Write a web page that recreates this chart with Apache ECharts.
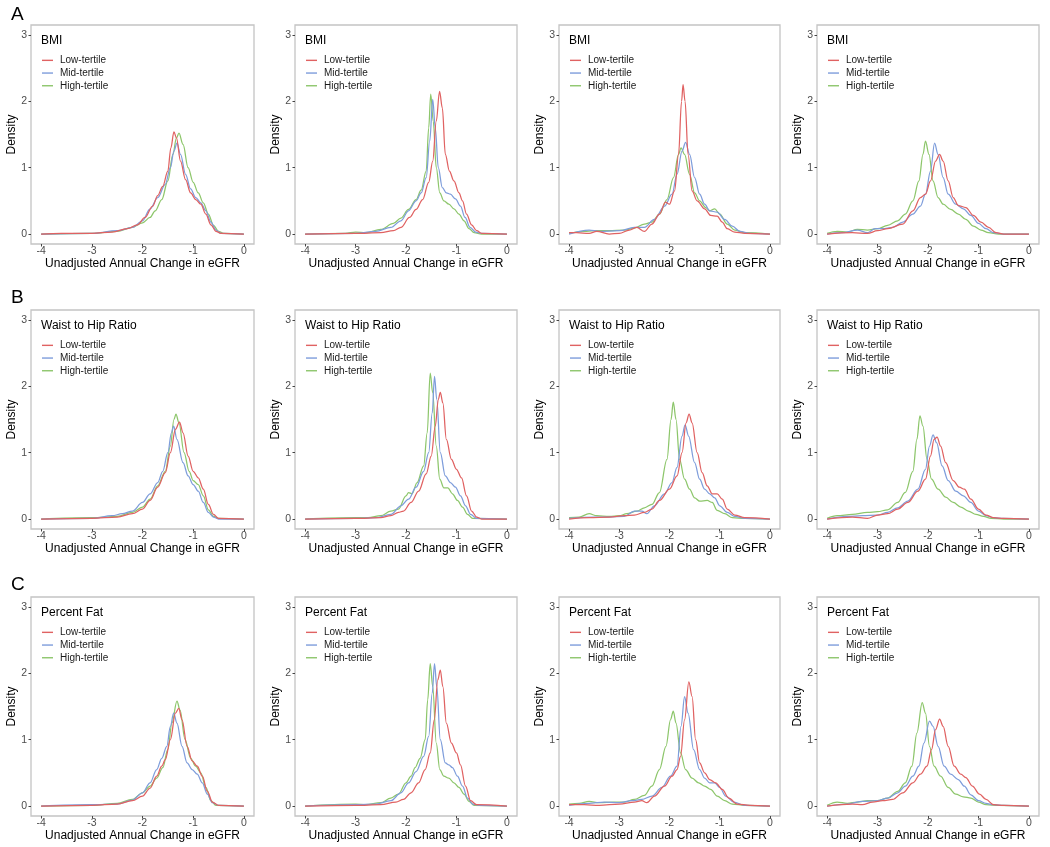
<!DOCTYPE html>
<html><head><meta charset="utf-8">
<script src="https://cdn.jsdelivr.net/npm/echarts@6/dist/echarts.min.js"></script>
<style>html,body{margin:0;padding:0;background:#fff}#c{width:1050px;height:847px}</style>
</head><body><div id="c"></div>
<script>
// ---- labels ----
const tertiles = ['Low-tertile', 'Mid-tertile', 'High-tertile'];
const measures = ['BMI', 'Waist to Hip Ratio', 'Percent Fat'];
const rowLetters = ['A', 'B', 'C'];
const xTicks = [-4, -3, -2, -1, 0];
const yTicks = [0, 1, 2, 3];
const xTitle = 'Unadjusted Annual Change in eGFR';
const yTitle = 'Density';

// ---- data: [x, density] ----
// Row A: BMI
const bmi1_low = [[-4,0],[-3.6,0.01],[-3,0.01],[-2.6,0.03],[-2.3,0.08],[-2.1,0.14],[-1.95,0.25],[-1.8,0.42],[-1.7,0.58],[-1.6,0.72],[-1.5,0.95],[-1.44,1.3],[-1.38,1.54],[-1.33,1.45],[-1.25,1.1],[-1.15,0.82],[-1.05,0.62],[-0.95,0.52],[-0.85,0.45],[-0.75,0.3],[-0.65,0.14],[-0.55,0.04],[-0.45,0.01],[0,0]];
const bmi1_mid = [[-4,0],[-3,0.01],[-2.5,0.05],[-2.2,0.1],[-2,0.2],[-1.85,0.38],[-1.7,0.55],[-1.55,0.75],[-1.45,1.0],[-1.38,1.25],[-1.32,1.37],[-1.25,1.2],[-1.15,0.9],[-1.05,0.68],[-0.95,0.55],[-0.85,0.47],[-0.75,0.35],[-0.65,0.18],[-0.55,0.06],[-0.45,0.01],[0,0]];
const bmi1_high = [[-4,0],[-3,0.01],[-2.5,0.04],[-2.2,0.1],[-2,0.17],[-1.85,0.25],[-1.75,0.35],[-1.62,0.52],[-1.5,0.8],[-1.4,1.2],[-1.33,1.45],[-1.28,1.52],[-1.2,1.35],[-1.1,1.0],[-1.0,0.78],[-0.9,0.62],[-0.8,0.47],[-0.7,0.3],[-0.6,0.13],[-0.5,0.04],[-0.4,0.01],[0,0]];

const bmi2_low = [[-4,0],[-3,0.01],[-2.5,0.02],[-2.25,0.05],[-2.1,0.1],[-1.93,0.25],[-1.8,0.37],[-1.67,0.52],[-1.55,0.78],[-1.47,1.1],[-1.4,1.7],[-1.335,2.15],[-1.28,1.9],[-1.22,1.2],[-1.14,0.95],[-1.05,0.8],[-0.95,0.62],[-0.88,0.5],[-0.8,0.3],[-0.7,0.14],[-0.6,0.05],[-0.5,0.01],[0,0]];
const bmi2_mid = [[-4,0],[-3,0.01],[-2.6,0.04],[-2.3,0.1],[-2.1,0.2],[-1.95,0.35],[-1.8,0.5],[-1.7,0.62],[-1.6,0.85],[-1.53,1.4],[-1.47,2.03],[-1.42,1.6],[-1.36,1.0],[-1.28,0.7],[-1.2,0.62],[-1.12,0.6],[-1.02,0.53],[-0.92,0.42],[-0.83,0.25],[-0.73,0.1],[-0.62,0.03],[-0.5,0.01],[0,0]];
const bmi2_high = [[-4,0],[-3.2,0.01],[-3,0.03],[-2.8,0.02],[-2.5,0.07],[-2.25,0.16],[-2.1,0.24],[-1.95,0.37],[-1.8,0.52],[-1.7,0.66],[-1.6,0.95],[-1.55,1.6],[-1.51,2.11],[-1.46,1.7],[-1.4,1.0],[-1.33,0.62],[-1.25,0.5],[-1.15,0.45],[-1.05,0.38],[-0.95,0.3],[-0.85,0.2],[-0.75,0.08],[-0.65,0.02],[-0.5,0],[0,0]];

const bmi3_low = [[-4,0.02],[-3.85,0.02],[-3.6,0.01],[-3.45,0.04],[-3.2,0.0],[-3,0.01],[-2.8,0.06],[-2.65,0.1],[-2.5,0.04],[-2.35,0.15],[-2.2,0.3],[-2.08,0.48],[-2.0,0.45],[-1.9,0.65],[-1.82,1.2],[-1.76,2.0],[-1.73,2.25],[-1.69,2.0],[-1.63,1.2],[-1.55,0.65],[-1.45,0.5],[-1.3,0.38],[-1.18,0.28],[-1.05,0.27],[-0.95,0.18],[-0.85,0.08],[-0.7,0.03],[-0.5,0.01],[0,0]];
const bmi3_mid = [[-4,0],[-3.6,0.06],[-3.4,0.04],[-3,0.05],[-2.7,0.1],[-2.5,0.1],[-2.3,0.22],[-2.1,0.42],[-1.95,0.6],[-1.85,0.9],[-1.75,1.25],[-1.68,1.38],[-1.6,1.2],[-1.5,0.85],[-1.4,0.6],[-1.3,0.45],[-1.2,0.35],[-1.05,0.33],[-0.9,0.22],[-0.75,0.12],[-0.6,0.04],[-0.4,0.01],[0,0]];
const bmi3_high = [[-4,0.01],[-3.7,0.04],[-3.5,0.05],[-3.2,0.05],[-2.9,0.06],[-2.7,0.09],[-2.5,0.15],[-2.35,0.18],[-2.2,0.3],[-2.05,0.52],[-1.92,0.85],[-1.82,1.2],[-1.77,1.3],[-1.7,1.2],[-1.6,0.9],[-1.5,0.62],[-1.4,0.5],[-1.28,0.4],[-1.2,0.35],[-1.1,0.38],[-1.0,0.3],[-0.85,0.15],[-0.7,0.06],[-0.5,0.02],[0,0]];

const bmi4_low = [[-4,0],[-3.5,0.02],[-3.2,0.01],[-3,0.05],[-2.8,0.08],[-2.5,0.15],[-2.3,0.35],[-2.15,0.55],[-2.05,0.6],[-1.95,0.8],[-1.85,1.1],[-1.77,1.2],[-1.7,1.1],[-1.6,0.8],[-1.5,0.55],[-1.4,0.43],[-1.25,0.4],[-1.1,0.28],[-0.95,0.18],[-0.8,0.1],[-0.65,0.02],[-0.5,0],[0,0]];
const bmi4_mid = [[-4,0],[-3.7,0.02],[-3.4,0.06],[-3.2,0.02],[-3.05,0.08],[-2.9,0.08],[-2.7,0.1],[-2.5,0.18],[-2.3,0.3],[-2.15,0.42],[-2.05,0.6],[-1.95,0.95],[-1.87,1.37],[-1.8,1.2],[-1.7,0.85],[-1.6,0.6],[-1.45,0.45],[-1.3,0.38],[-1.15,0.28],[-1.0,0.16],[-0.85,0.08],[-0.7,0.02],[-0.5,0],[0,0]];
const bmi4_high = [[-4,0.01],[-3.8,0.04],[-3.6,0.03],[-3.4,0.07],[-3.2,0.06],[-3,0.08],[-2.8,0.13],[-2.6,0.2],[-2.45,0.3],[-2.3,0.5],[-2.18,0.8],[-2.1,1.2],[-2.05,1.4],[-1.98,1.2],[-1.9,0.8],[-1.8,0.55],[-1.7,0.45],[-1.55,0.37],[-1.4,0.3],[-1.25,0.22],[-1.1,0.12],[-0.95,0.06],[-0.8,0.02],[-0.6,0],[0,0]];

// Row B: Waist to Hip Ratio
const whr1_low = [[-4,0],[-3,0.01],[-2.5,0.03],[-2.2,0.08],[-2,0.15],[-1.85,0.28],[-1.7,0.48],[-1.55,0.7],[-1.45,1.0],[-1.35,1.35],[-1.27,1.46],[-1.2,1.3],[-1.1,0.95],[-1.0,0.72],[-0.9,0.62],[-0.8,0.45],[-0.7,0.22],[-0.6,0.07],[-0.5,0.01],[0,0]];
const whr1_mid = [[-4,0],[-3,0.01],[-2.6,0.05],[-2.4,0.08],[-2.2,0.12],[-2,0.25],[-1.85,0.38],[-1.7,0.55],[-1.6,0.72],[-1.5,1.0],[-1.43,1.3],[-1.385,1.4],[-1.32,1.2],[-1.2,0.85],[-1.1,0.65],[-1.0,0.52],[-0.9,0.42],[-0.8,0.25],[-0.7,0.1],[-0.6,0.03],[-0.5,0],[0,0]];
const whr1_high = [[-4,0],[-3,0.02],[-2.5,0.04],[-2.2,0.1],[-2,0.18],[-1.85,0.3],[-1.7,0.5],[-1.55,0.72],[-1.45,1.1],[-1.38,1.5],[-1.34,1.58],[-1.28,1.45],[-1.18,1.0],[-1.08,0.72],[-1.0,0.58],[-0.9,0.52],[-0.8,0.35],[-0.7,0.14],[-0.6,0.04],[-0.5,0.01],[0,0]];

const whr2_low = [[-4,0],[-3,0.01],[-2.5,0.02],[-2.3,0.05],[-2.15,0.1],[-2.05,0.12],[-1.9,0.25],[-1.75,0.42],[-1.6,0.68],[-1.5,0.95],[-1.42,1.4],[-1.36,1.8],[-1.32,1.91],[-1.27,1.75],[-1.2,1.2],[-1.1,0.9],[-1.0,0.75],[-0.9,0.62],[-0.8,0.35],[-0.7,0.12],[-0.6,0.03],[-0.5,0],[0,0]];
const whr2_mid = [[-4,0],[-3,0.01],[-2.6,0.02],[-2.3,0.07],[-2.1,0.2],[-1.95,0.3],[-1.8,0.48],[-1.65,0.72],[-1.55,1.0],[-1.48,1.6],[-1.435,2.15],[-1.39,1.8],[-1.32,1.0],[-1.22,0.65],[-1.12,0.55],[-1.02,0.48],[-0.92,0.35],[-0.82,0.2],[-0.72,0.07],[-0.6,0.01],[0,0]];
const whr2_high = [[-4,0],[-3,0.02],[-2.75,0.02],[-2.5,0.05],[-2.3,0.12],[-2.15,0.15],[-2.0,0.35],[-1.95,0.4],[-1.88,0.38],[-1.78,0.55],[-1.65,0.8],[-1.58,1.3],[-1.52,2.2],[-1.47,1.9],[-1.4,1.1],[-1.33,0.6],[-1.25,0.47],[-1.17,0.47],[-1.08,0.38],[-0.98,0.28],[-0.88,0.18],[-0.78,0.07],[-0.68,0.01],[0,0]];

const whr3_low = [[-4,0],[-3.6,0.02],[-3.2,0.03],[-2.9,0.05],[-2.7,0.06],[-2.5,0.1],[-2.35,0.15],[-2.2,0.28],[-2.0,0.45],[-1.85,0.65],[-1.75,1.0],[-1.67,1.45],[-1.61,1.58],[-1.55,1.45],[-1.45,1.0],[-1.35,0.7],[-1.25,0.5],[-1.15,0.38],[-1.05,0.38],[-0.95,0.3],[-0.85,0.15],[-0.7,0.06],[-0.5,0.02],[0,0]];
const whr3_mid = [[-4,0.01],[-3.5,0.03],[-3.2,0.03],[-2.9,0.04],[-2.7,0.12],[-2.55,0.12],[-2.45,0.08],[-2.3,0.2],[-2.1,0.38],[-1.95,0.55],[-1.85,0.78],[-1.75,1.25],[-1.69,1.42],[-1.62,1.25],[-1.5,0.85],[-1.4,0.6],[-1.3,0.45],[-1.2,0.38],[-1.1,0.32],[-1.0,0.2],[-0.85,0.1],[-0.7,0.04],[-0.5,0.01],[0,0]];
const whr3_high = [[-4,0.02],[-3.8,0.03],[-3.6,0.08],[-3.45,0.05],[-3.2,0.04],[-3,0.05],[-2.85,0.08],[-2.65,0.12],[-2.5,0.17],[-2.35,0.22],[-2.2,0.4],[-2.05,0.9],[-1.97,1.5],[-1.925,1.76],[-1.87,1.5],[-1.8,0.9],[-1.7,0.6],[-1.6,0.45],[-1.5,0.32],[-1.4,0.27],[-1.25,0.28],[-1.15,0.25],[-1.05,0.13],[-0.9,0.08],[-0.75,0.02],[-0.5,0.01],[0,0]];

const whr4_low = [[-4,0],[-3.5,0.03],[-3.2,0.01],[-3.0,0.06],[-2.8,0.08],[-2.6,0.15],[-2.4,0.25],[-2.2,0.42],[-2.05,0.6],[-1.95,0.95],[-1.88,1.2],[-1.82,1.235],[-1.75,1.1],[-1.65,0.85],[-1.5,0.58],[-1.38,0.48],[-1.28,0.45],[-1.15,0.3],[-1.0,0.15],[-0.85,0.06],[-0.7,0.02],[-0.5,0.01],[0,0]];
const whr4_mid = [[-4,0],[-3.6,0.04],[-3.3,0.05],[-3.0,0.06],[-2.8,0.1],[-2.6,0.17],[-2.4,0.27],[-2.2,0.45],[-2.05,0.75],[-1.97,1.1],[-1.9,1.27],[-1.83,1.15],[-1.72,0.8],[-1.6,0.58],[-1.45,0.42],[-1.3,0.35],[-1.15,0.25],[-1.0,0.12],[-0.85,0.05],[-0.7,0.02],[-0.5,0.01],[0,0]];
const whr4_high = [[-4,0.01],[-3.8,0.05],[-3.5,0.07],[-3.2,0.1],[-3.0,0.11],[-2.8,0.14],[-2.6,0.25],[-2.45,0.4],[-2.3,0.72],[-2.22,1.2],[-2.16,1.555],[-2.1,1.4],[-2.02,0.9],[-1.93,0.6],[-1.8,0.45],[-1.65,0.33],[-1.5,0.25],[-1.35,0.18],[-1.2,0.12],[-1.05,0.07],[-0.9,0.04],[-0.75,0.01],[-0.5,0],[0,0]];

// Row C: Percent Fat
const fat1_low = [[-4,0],[-3,0.01],[-2.5,0.03],[-2.2,0.08],[-2,0.15],[-1.85,0.27],[-1.72,0.45],[-1.62,0.6],[-1.55,0.7],[-1.45,1.0],[-1.35,1.4],[-1.285,1.47],[-1.22,1.3],[-1.12,0.9],[-1.02,0.68],[-0.92,0.6],[-0.82,0.45],[-0.72,0.22],[-0.62,0.06],[-0.5,0.01],[0,0]];
const fat1_mid = [[-4,0],[-3,0.02],[-2.5,0.03],[-2.2,0.09],[-2.0,0.2],[-1.85,0.35],[-1.72,0.55],[-1.62,0.72],[-1.52,0.9],[-1.45,1.2],[-1.385,1.4],[-1.32,1.25],[-1.22,0.9],[-1.12,0.65],[-1.02,0.55],[-0.92,0.48],[-0.82,0.35],[-0.72,0.18],[-0.62,0.05],[-0.5,0.01],[0,0]];
const fat1_high = [[-4,0],[-3,0.01],[-2.5,0.04],[-2.2,0.1],[-2.0,0.2],[-1.85,0.3],[-1.72,0.42],[-1.6,0.58],[-1.5,0.85],[-1.42,1.25],[-1.32,1.58],[-1.26,1.45],[-1.16,1.0],[-1.05,0.72],[-0.95,0.6],[-0.85,0.5],[-0.75,0.28],[-0.65,0.08],[-0.55,0.01],[0,0]];

const fat2_low = [[-4,0],[-3,0.01],[-2.5,0.02],[-2.2,0.06],[-2.05,0.1],[-1.9,0.2],[-1.75,0.35],[-1.62,0.55],[-1.52,0.8],[-1.44,1.3],[-1.37,1.9],[-1.32,2.05],[-1.27,1.8],[-1.2,1.25],[-1.1,0.95],[-1.0,0.8],[-0.92,0.62],[-0.82,0.3],[-0.72,0.08],[-0.6,0.02],[0,0]];
const fat2_mid = [[-4,0],[-3,0.02],[-2.6,0.03],[-2.3,0.08],[-2.1,0.2],[-1.95,0.35],[-1.8,0.52],[-1.65,0.75],[-1.55,1.05],[-1.48,1.7],[-1.435,2.145],[-1.39,1.8],[-1.32,1.0],[-1.22,0.65],[-1.15,0.62],[-1.08,0.58],[-0.98,0.45],[-0.88,0.3],[-0.78,0.12],[-0.68,0.03],[-0.55,0.01],[0,0]];
const fat2_high = [[-4,0],[-3,0.03],[-2.8,0.02],[-2.5,0.05],[-2.3,0.12],[-2.15,0.18],[-2.0,0.35],[-1.9,0.45],[-1.82,0.58],[-1.72,0.72],[-1.62,1.0],[-1.57,1.6],[-1.52,2.145],[-1.47,1.8],[-1.4,0.95],[-1.33,0.55],[-1.25,0.45],[-1.15,0.42],[-1.05,0.35],[-0.95,0.28],[-0.85,0.18],[-0.75,0.07],[-0.65,0.01],[0,0]];

const fat3_low = [[-4,0.02],[-3.7,0.02],[-3.4,0.01],[-3.0,0.03],[-2.7,0.06],[-2.55,0.08],[-2.45,0.05],[-2.3,0.15],[-2.1,0.3],[-1.95,0.45],[-1.85,0.55],[-1.78,0.75],[-1.7,1.3],[-1.615,1.87],[-1.55,1.65],[-1.48,1.0],[-1.4,0.65],[-1.3,0.5],[-1.2,0.4],[-1.08,0.35],[-0.95,0.25],[-0.82,0.12],[-0.65,0.03],[-0.4,0.01],[0,0]];
const fat3_mid = [[-4,0.01],[-3.6,0.04],[-3.3,0.06],[-3.0,0.05],[-2.75,0.08],[-2.55,0.1],[-2.35,0.15],[-2.15,0.28],[-1.98,0.45],[-1.85,0.6],[-1.77,1.2],[-1.7,1.65],[-1.63,1.4],[-1.52,0.85],[-1.4,0.55],[-1.3,0.42],[-1.2,0.35],[-1.1,0.35],[-1.0,0.28],[-0.88,0.15],[-0.72,0.06],[-0.5,0.01],[0,0]];
const fat3_high = [[-4,0.03],[-3.8,0.04],[-3.6,0.07],[-3.4,0.05],[-3.1,0.06],[-2.9,0.06],[-2.7,0.1],[-2.5,0.16],[-2.35,0.3],[-2.2,0.55],[-2.07,0.9],[-1.98,1.3],[-1.925,1.43],[-1.87,1.25],[-1.78,0.8],[-1.68,0.55],[-1.55,0.42],[-1.42,0.35],[-1.3,0.3],[-1.18,0.25],[-1.05,0.15],[-0.9,0.08],[-0.75,0.03],[-0.5,0.01],[0,0]];

const fat4_low = [[-4,0],[-3.5,0.03],[-3.3,0.02],[-3.1,0.06],[-2.9,0.08],[-2.7,0.1],[-2.5,0.2],[-2.3,0.35],[-2.15,0.48],[-2.02,0.6],[-1.93,0.85],[-1.85,1.15],[-1.77,1.31],[-1.7,1.2],[-1.6,0.9],[-1.48,0.6],[-1.35,0.48],[-1.25,0.43],[-1.12,0.3],[-0.98,0.18],[-0.85,0.1],[-0.7,0.02],[-0.5,0.01],[0,0]];
const fat4_mid = [[-4,0],[-3.6,0.03],[-3.3,0.07],[-3.0,0.08],[-2.8,0.12],[-2.6,0.2],[-2.45,0.3],[-2.3,0.45],[-2.18,0.6],[-2.08,0.95],[-1.97,1.28],[-1.9,1.2],[-1.8,0.9],[-1.68,0.6],[-1.55,0.48],[-1.4,0.4],[-1.28,0.3],[-1.15,0.17],[-1.0,0.08],[-0.85,0.04],[-0.7,0.02],[-0.5,0.01],[0,0]];
const fat4_high = [[-4,0.01],[-3.8,0.06],[-3.6,0.04],[-3.4,0.06],[-3.2,0.08],[-3.0,0.08],[-2.8,0.12],[-2.6,0.22],[-2.45,0.35],[-2.32,0.6],[-2.22,1.1],[-2.115,1.56],[-2.05,1.4],[-1.97,0.9],[-1.88,0.6],[-1.75,0.45],[-1.6,0.28],[-1.45,0.18],[-1.3,0.14],[-1.15,0.12],[-1.0,0.06],[-0.85,0.02],[-0.6,0.01],[0,0]];

const panelData = [
  [[bmi1_low,bmi1_mid,bmi1_high],[bmi2_low,bmi2_mid,bmi2_high],[bmi3_low,bmi3_mid,bmi3_high],[bmi4_low,bmi4_mid,bmi4_high]],
  [[whr1_low,whr1_mid,whr1_high],[whr2_low,whr2_mid,whr2_high],[whr3_low,whr3_mid,whr3_high],[whr4_low,whr4_mid,whr4_high]],
  [[fat1_low,fat1_mid,fat1_high],[fat2_low,fat2_mid,fat2_high],[fat3_low,fat3_mid,fat3_high],[fat4_low,fat4_mid,fat4_high]]
];

// ---- layout & style ----
const colLeft = [31, 295, 559, 817];
const colWidth = [223, 222, 221, 222];
const rowTop = [25, 310, 597];
const boxHeight = 219;
const letterTop = [5, 288, 575];
const colors = ['#e06262', '#7e9ddb', '#8dc66b'];
const FONT = 'Liberation Sans, Arial, sans-serif';

const grids = [], xAxes = [], yAxes = [], titles = [], legends = [], series = [];
rowLetters.forEach((L, r) => {
  titles.push({ text: L, left: 11, top: letterTop[r], padding: 0,
    textStyle: { fontSize: 19, fontWeight: 'normal', color: '#000', fontFamily: FONT } });
});
for (let r = 0; r < 3; r++) {
  for (let c = 0; c < 4; c++) {
    const i = r * 4 + c;
    const L = colLeft[c], T = rowTop[r];
    grids.push({ left: L, top: T, width: colWidth[c], height: boxHeight, show: true,
      borderColor: '#c4c4c4', borderWidth: 1.3, backgroundColor: '#fff' });
    xAxes.push({ gridIndex: i, type: 'value', min: -4.2, max: 0.2, position: 'bottom',
      axisLine: { show: false, onZero: false }, splitLine: { show: false },
      axisTick: { show: true, inside: false, length: 2.5, customValues: xTicks, lineStyle: { color: '#444', width: 1 } },
      axisLabel: { customValues: xTicks, fontSize: 10.5, color: '#4d4d4d', margin: 2, fontFamily: FONT },
      name: xTitle, nameLocation: 'middle', nameGap: 10,
      nameTextStyle: { fontSize: 12, color: '#000', fontFamily: FONT } });
    yAxes.push({ gridIndex: i, type: 'value', min: -0.15, max: 3.15, position: 'left',
      axisLine: { show: false, onZero: false }, splitLine: { show: false },
      axisTick: { show: true, inside: false, length: 2.5, customValues: yTicks, lineStyle: { color: '#444', width: 1 } },
      axisLabel: { customValues: yTicks, fontSize: 10.5, color: '#4d4d4d', margin: 4, fontFamily: FONT },
      name: yTitle, nameLocation: 'middle', nameGap: 10,
      nameTextStyle: { fontSize: 12, color: '#000', fontFamily: FONT } });
    titles.push({ text: measures[r], left: L + 10, top: T + 10, padding: 0,
      textStyle: { fontSize: 12, fontWeight: 'normal', color: '#000', fontFamily: FONT } });
    legends.push({ data: tertiles.map((n, k) => ({ name: n, itemStyle: { color: colors[k] } })),
      orient: 'vertical', left: L + 11, top: T + 29,
      padding: 0, icon: 'rect', itemWidth: 11, itemHeight: 1.4, itemGap: 0, selectedMode: false,
      textStyle: { fontSize: 10, lineHeight: 12.7, color: '#1a1a1a', fontFamily: FONT, padding: [0, 0, 0, 2] } });
    panelData[r][c].forEach((d, k) => {
      series.push({ type: 'line', name: tertiles[k], xAxisIndex: i, yAxisIndex: i,
        data: d, symbol: 'none', smooth: 0.35, smoothMonotone: 'x',
        lineStyle: { color: colors[k], width: 1.25 }, itemStyle: { color: colors[k] },
        silent: true, animation: false, z: 3 - k });
    });
  }
}

const chart = echarts.init(document.getElementById('c'), null, { renderer: 'canvas' });
chart.setOption({ backgroundColor: '#fff', animation: false, textStyle: { fontFamily: FONT },
  title: titles, grid: grids, xAxis: xAxes, yAxis: yAxes, legend: legends, series: series });
</script></body></html>
